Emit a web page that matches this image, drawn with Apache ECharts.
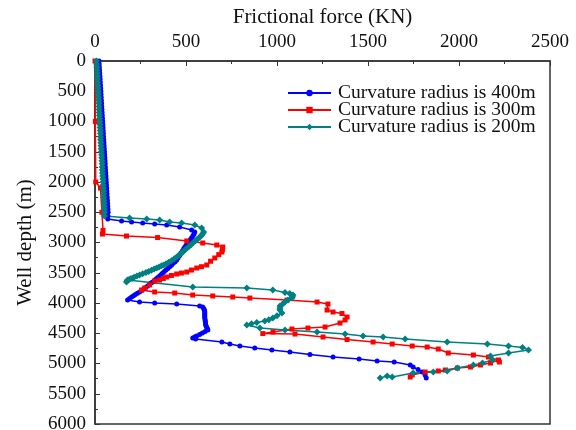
<!DOCTYPE html>
<html><head><meta charset="utf-8">
<script src="https://cdn.jsdelivr.net/npm/echarts@6/dist/echarts.min.js"></script>
<style>html,body{margin:0;padding:0;background:#fff}#c{width:576px;height:430px}</style>
</head><body><div id="c"></div>
<script>
const seriesNames = ['Curvature radius is 400m','Curvature radius is 300m','Curvature radius is 200m'];
const xTicks = [0,500,1000,1500,2000,2500];
const yTicks = [0,500,1000,1500,2000,2500,3000,3500,4000,4500,5000,5500,6000];
// [frictional force (KN), well depth (m)]
const blue400 = [[22,0],[23,50],[24,100],[25,150],[26,200],[27,250],[28,300],[29,350],[30,400],[31,450],[32,500],[33,550],[34,600],[35,650],[36,700],[37,750],[38,800],[39,850],[40,900],[41,950],[42,1000],[43,1050],[44,1100],[45,1150],[46,1200],[47,1250],[48,1300],[49,1350],[50,1400],[51,1450],[52,1500],[53,1550],[54,1600],[55,1650],[56,1700],[57,1750],[58,1800],[59,1850],[60,1900],[61,1950],[62,2000],[63,2050],[64,2100],[65,2150],[66,2200],[67,2250],[68,2300],[69,2350],[70,2400],[71,2450],[72,2500],[71,2560],[70,2610],
[146,2645],[201,2661],[262,2678],[328,2694],[394,2711],[465,2744],[531,2794],[548,2827],
[544,2860],[538,2890],[531,2920],[524,2950],[516,2980],[509,3008],[502,3040],[495,3070],[488,3100],[480,3140],[472,3175],[465,3215],[457,3250],[449,3290],[440,3320],[430,3345],[420,3375],[410,3400],[400,3430],[390,3455],[381,3480],[372,3504],[364,3530],[355,3555],[345,3580],[335,3605],[326,3630],[317,3653],[308,3670],[300,3690],[289,3719],[279,3745],[268,3770],[257,3795],[245,3818],[233,3840],[222,3860],[212,3880],[201,3901],[190,3925],[179,3950],
[245,3984],[328,4000],[449,4017],[575,4050],[592,4066],[597,4090],[600,4110],[602,4130],[603,4150],[603,4175],[603,4200],[603,4225],[603,4248],[605,4275],[606,4300],[607,4330],[608,4364],[612,4390],[615,4410],[618,4430],[620,4447],[605,4470],[590,4495],[575,4520],[558,4545],[548,4560],[537,4579],[553,4595],
[697,4645],[741,4678],[796,4711],[878,4744],[972,4777],[1071,4810],[1181,4851],[1308,4893],[1451,4926],[1550,4959],[1644,4975],[1732,5025],[1748,5058],[1775,5100],[1798,5141],[1814,5190],[1820,5240]];
const red300 = [[0,0],[2,1000],[4,2000],[30,2100],[38,2500],[44,2800],[41,2860],
[173,2893],[344,2918],[504,2975],[592,3008],[669,3042],[702,3075],[700,3120],[697,3157],[680,3200],[658,3256],[635,3310],[614,3372],[585,3400],[559,3422],[530,3455],[504,3488],[475,3505],[449,3521],[420,3545],[394,3570],[375,3595],[355,3620],[328,3636],[300,3700],[273,3752],[256,3785],
[328,3818],[438,3835],[537,3868],[647,3884],[757,3901],[851,3918],[1055,3951],[1220,3984],[1280,4017],[1275,4116],[1308,4149],[1357,4174],[1385,4232],[1374,4281],[1346,4331],[1264,4397],[1170,4414],[1082,4430],[978,4480],[922,4505],
[1099,4513],[1253,4562],[1385,4604],[1528,4645],[1633,4678],[1743,4711],[1825,4728],[1886,4761],[1941,4827],[2079,4860],[2162,4893],[2217,4942],[2222,4975],[2173,4992],[2118,5025],[2063,5058],[1991,5075],[1925,5108],[1886,5124],[1814,5141],[1743,5190],[1732,5223]];
const teal200 = [[8,0],[9,50],[10,100],[11,150],[12,200],[13,250],[13,300],[14,350],[15,400],[16,450],[17,500],[18,550],[19,600],[20,650],[21,700],[22,750],[22,800],[23,850],[24,900],[25,950],[26,1000],[27,1050],[28,1100],[29,1150],[30,1200],[30,1250],[31,1300],[32,1350],[33,1400],[34,1450],[35,1500],[36,1550],[37,1600],[38,1650],[39,1700],[39,1750],[40,1800],[41,1850],[42,1900],[43,1950],[44,2000],[45,2050],[46,2100],[47,2150],[47,2200],[48,2250],[49,2300],[50,2350],[51,2400],[51,2450],[52,2500],[52,2562],
[190,2595],[284,2612],[355,2628],[410,2661],[476,2678],[548,2711],[586,2760],[597,2827],
[593,2850],[587,2875],[580,2900],[570,2925],[560,2950],[549,2980],[537,3008],[526,3040],[515,3070],[503,3100],[492,3130],[481,3160],[470,3185],[460,3215],[449,3240],[435,3270],[420,3300],[405,3325],[390,3350],[377,3370],[365,3385],[352,3405],[339,3422],[325,3440],[310,3460],[295,3480],[280,3495],[262,3515],[245,3538],[230,3555],[215,3575],[205,3590],[195,3600],[187,3610],[179,3620],[175,3635],[173,3653],
[537,3736],[834,3752],[977,3785],[1044,3826],[1070,3845],[1088,3868],[1085,3895],[1082,3918],[1060,3950],[1044,3984],[1030,4020],[1016,4050],[1016,4085],[1016,4116],[1027,4166],[1000,4210],[977,4248],[955,4275],[933,4298],[889,4323],[860,4345],[834,4364],
[906,4414],[1044,4447],[1220,4480],[1374,4513],[1473,4546],[1583,4562],[1704,4595],[1935,4645],[2156,4678],[2272,4711],[2349,4736],[2382,4777],[2272,4827],[2173,4876],[2184,4942],[2129,4992],[2079,5025],[1991,5075],[1935,5124],[1859,5141],[1748,5157],[1633,5223],[1605,5207],[1567,5240]];

const FONT = 'Liberation Serif';
const chart = echarts.init(document.getElementById('c'), null, {renderer:'canvas'});
function mk(name, data, color, symbol, size){
  return {name, type:'line', data, symbol, symbolSize:size, showSymbol:true,
    lineStyle:{color, width:1.5}, itemStyle:{color}, animation:false, z:2};
}
chart.setOption({
  backgroundColor:'#fff',
  grid:{left:95, right:26, top:61, bottom:6, outerBoundsMode:'none', containLabel:false,
    show:true, borderColor:'#333', borderWidth:1.5},
  legend:{orient:'vertical', left:287, top:83, padding:0, itemWidth:43, itemHeight:8, itemGap:-3,
    textStyle:{fontFamily:FONT, fontSize:19.5, color:'#111', lineHeight:16, padding:[0,0,0,2]},
    data:seriesNames},
  xAxis:{type:'value', position:'top', min:0, max:2500, interval:500,
    name:'Frictional force (KN)', nameLocation:'middle', nameGap:32,
    nameTextStyle:{fontFamily:FONT, fontSize:21, color:'#111'},
    axisLine:{show:true, lineStyle:{color:'#333', width:1.5}},
    axisTick:{inside:true, length:5, lineStyle:{color:'#333'}},
    minorTick:{show:true, splitNumber:2, length:3, lineStyle:{color:'#333'}},
    splitLine:{show:false},
    axisLabel:{fontFamily:FONT, fontSize:19, color:'#111', margin:9,
      formatter:v=>xTicks.includes(v)?String(v):''}},
  yAxis:{type:'value', inverse:true, min:0, max:6000, interval:500,
    name:'Well depth (m)', nameLocation:'middle', nameGap:59, nameRotate:90,
    nameTextStyle:{fontFamily:FONT, fontSize:21, color:'#111'},
    axisLine:{show:true, lineStyle:{color:'#333', width:1.5}},
    axisTick:{inside:true, length:5, lineStyle:{color:'#333'}},
    minorTick:{show:true, splitNumber:2, length:3, lineStyle:{color:'#333'}},
    splitLine:{show:false},
    axisLabel:{fontFamily:FONT, fontSize:19, color:'#111', margin:9,
      formatter:v=>yTicks.includes(v)?String(v):''}},
  series:[
    mk(seriesNames[0], blue400, '#0000ff', 'circle', 5),
    mk(seriesNames[1], red300, '#ff0000', 'rect', 5),
    mk(seriesNames[2], teal200, '#008080', 'diamond', 7)
  ]
});
</script></body></html>
